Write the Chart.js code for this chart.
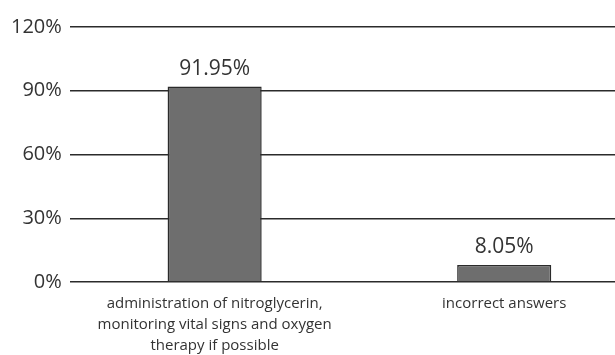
<!DOCTYPE html>
<html>
<head>
<meta charset="utf-8">
<script src="https://cdn.jsdelivr.net/npm/chart.js@4"></script>
<style>
  html, body { margin: 0; padding: 0; background: #fff; overflow: hidden; }
  #wrap { width: 650px; height: 353px; margin-top: 6px; }
</style>
</head>
<body>
<div id="wrap"><canvas id="answersChart"></canvas></div>
<script>
// answer categories (wrapped over several lines) and their share
const categories = [
  ['administration of nitroglycerin,', 'monitoring vital signs and oxygen', 'therapy if possible'],
  'incorrect answers'
];
const shares = [91.95, 8.05];
const yTicks = [0, 30, 60, 90, 120];

// writes the value above every bar
const valueLabels = {
  id: 'valueLabels',
  afterDatasetsDraw(chart) {
    const ctx = chart.ctx;
    const meta = chart.getDatasetMeta(0);
    ctx.save();
    ctx.font = '21px "Open Sans", sans-serif';
    ctx.fillStyle = '#333';
    ctx.textAlign = 'center';
    ctx.textBaseline = 'alphabetic';
    meta.data.forEach((bar, i) => {
      ctx.fillText(shares[i].toFixed(2) + '%', bar.x, bar.y - 12);
    });
    ctx.restore();
  }
};

const ctx = document.getElementById('answersChart');

new Chart(ctx, {
  type: 'bar',
  data: {
    labels: categories,
    datasets: [{
      data: shares,
      backgroundColor: '#6e6e6e',
      borderColor: '#2b2b2b',
      borderWidth: 1.5,
      categoryPercentage: 1,
      barPercentage: 0.325
    }]
  },
  options: {
    responsive: true,
    maintainAspectRatio: false,
    animation: false,
    layout: { padding: { top: 21, left: 3, right: 1, bottom: 0 } },
    plugins: {
      legend: { display: false },
      tooltip: { enabled: false }
    },
    scales: {
      x: {
        grid: { display: false },
        border: { display: false },
        ticks: {
          color: '#333',
          font: { family: '"Open Sans", sans-serif', size: 15, lineHeight: 1.4 },
          maxRotation: 0,
          autoSkip: false,
          padding: 3
        }
      },
      y: {
        min: 0,
        max: 120,
        afterBuildTicks(axis) {
          axis.ticks = yTicks.map(v => ({ value: v }));
        },
        border: { display: false },
        grid: { color: '#2b2b2b', lineWidth: 1.5, drawTicks: false },
        ticks: {
          color: '#333',
          font: { family: '"Open Sans", sans-serif', size: 20 },
          padding: 8,
          callback: v => v + '%'
        }
      }
    }
  },
  plugins: [valueLabels]
});
</script>
</body>
</html>
